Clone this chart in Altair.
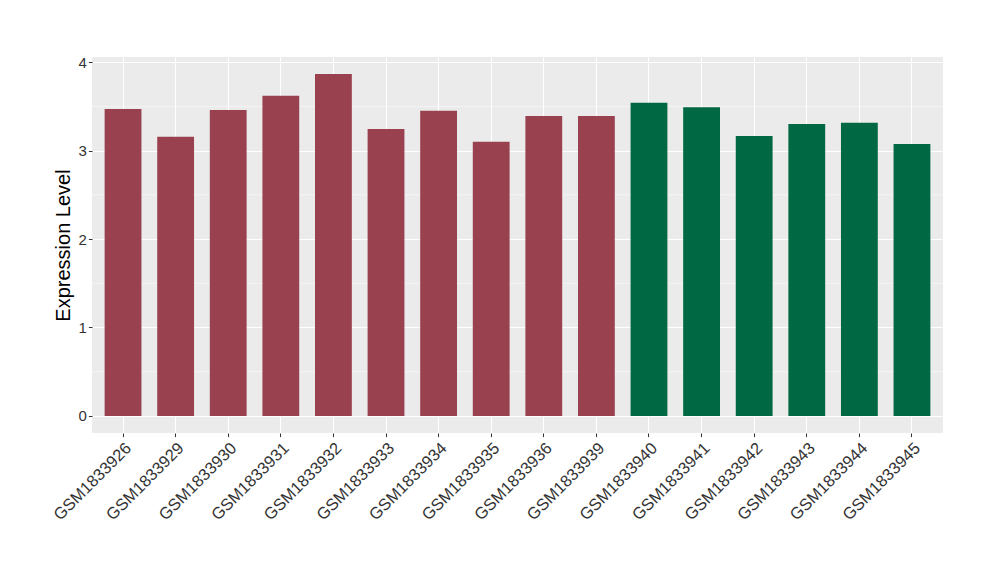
import altair as alt
import pandas as pd

samples = ["GSM1833926", "GSM1833929", "GSM1833930", "GSM1833931", "GSM1833932",
           "GSM1833933", "GSM1833934", "GSM1833935", "GSM1833936", "GSM1833939",
           "GSM1833940", "GSM1833941", "GSM1833942", "GSM1833943", "GSM1833944",
           "GSM1833945"]
values = [3.47, 3.155, 3.46, 3.62, 3.865, 3.245, 3.45, 3.10, 3.39, 3.39,
          3.54, 3.49, 3.165, 3.30, 3.315, 3.075]
groups = ["A"] * 10 + ["B"] * 6
group_colors = ["#9A4150", "#006843"]
major_ticks = [0, 1, 2, 3, 4]
minor_ticks = [0.5, 1.5, 2.5, 3.5]

df = pd.DataFrame({"sample": samples, "value": values, "group": groups})
minor_df = pd.DataFrame({"y": minor_ticks})

FONT = "Liberation Sans"
y_scale = alt.Scale(domain=[-0.193, 4.058], nice=False, zero=False)
x_scale = alt.Scale(paddingInner=0.3, paddingOuter=0.24)

y_axis = alt.Axis(title="Expression Level", values=major_ticks,
                  titleFontSize=20, titleFont=FONT, titleFontWeight="normal",
                  titleColor="black", titlePadding=5,
                  labelFontSize=15, labelFont=FONT, labelColor="#333333",
                  labelPadding=2, tickColor="#333333", tickSize=3.6,
                  grid=True, gridColor="white", gridWidth=1.1,
                  domain=False)

minor = alt.Chart(minor_df).mark_rule(color="white", strokeWidth=0.5).encode(
    y=alt.Y("y:Q", scale=y_scale, axis=y_axis)
)

bars = alt.Chart(df).mark_bar().encode(
    x=alt.X("sample:N", sort=samples, scale=x_scale,
            axis=alt.Axis(title=None, labelAngle=-45, labelAlign="right",
                          labelBaseline="top", labelFontSize=16.5, labelFont=FONT,
                          labelColor="#333333", labelPadding=3, labelOffset=0,
                          tickColor="#333333", tickSize=3.6, tickWidth=1,
                          grid=True, gridColor="white", gridWidth=1.1,
                          bandPosition=0.5, domain=False)),
    y=alt.Y("value:Q", scale=y_scale, axis=y_axis),
    y2=alt.datum(0),
    color=alt.Color("group:N", scale=alt.Scale(domain=["A", "B"], range=group_colors),
                    legend=None),
)

chart = alt.layer(minor, bars).properties(
    width=851, height=376,
    padding={"left": 84, "top": 49, "right": 40, "bottom": 100},
    autosize=alt.AutoSizeParams(type="none"),
).configure_view(fill="#EBEBEB", stroke=None)

chart.save("out.html", embed_options={"renderer": "svg", "actions": False})
